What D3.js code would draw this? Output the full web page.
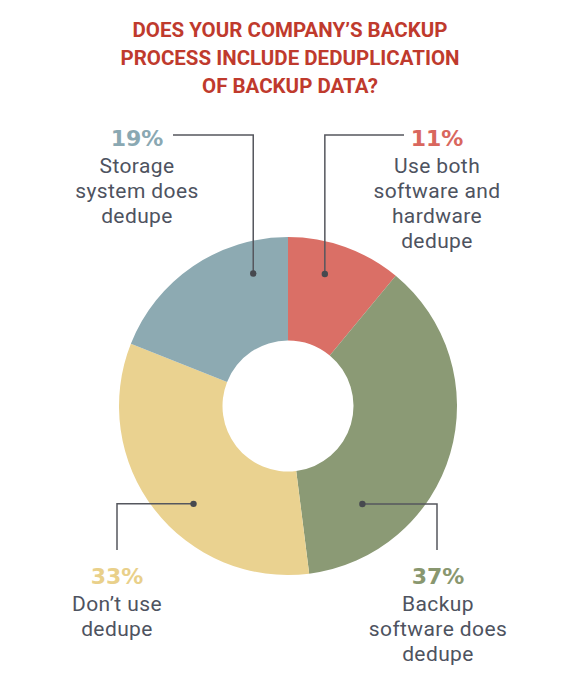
<!DOCTYPE html>
<html>
<head>
<meta charset="utf-8">
<script src="https://cdn.jsdelivr.net/npm/d3@7"></script>
<style>
  body { margin: 0; background: #fff; }
  svg { display: block; }
</style>
</head>
<body>
<script>
// answers, clockwise from 12 o'clock
var categories = [
  ["Use both", "software and", "hardware", "dedupe"],
  ["Backup", "software does", "dedupe"],
  ["Don\u2019t use", "dedupe"],
  ["Storage", "system does", "dedupe"]
];
var shares = [11, 37, 33, 19];
var titleLines = [
  "DOES YOUR COMPANY\u2019S BACKUP",
  "PROCESS INCLUDE DEDUPLICATION",
  "OF BACKUP DATA?"
];

var colors = ["#da6f66", "#8b9a75", "#ead290", "#8daab2"];
var pctColors = ["#d9675e", "#89976f", "#e9d08a", "#8aa8b2"];

// callout layout: dot (angle deg, radius), elbow end and label spot
var callouts = [
  {a: 15.6, r: 137, dir: "up", x2: 404, y2: 135, lx: 437, ly: 146},
  {a: 142.8, r: 123, dir: "down", x2: 437, y2: 550, lx: 438, ly: 584},
  {a: 224, r: 136, dir: "down", x2: 117, y2: 550, lx: 117, ly: 584},
  {a: -14.7, r: 137, dir: "up", x2: 173, y2: 135, lx: 137, ly: 146}
];

var width = 580, height = 684;
var cx = 288, cy = 406;

var svg = d3.select("body").append("svg")
  .attr("width", width)
  .attr("height", height);

svg.append("g")
  .selectAll("text")
  .data(titleLines)
  .enter().append("text")
  .attr("x", 290)
  .attr("y", function(d, i) { return 37 + i * 28; })
  .attr("text-anchor", "middle")
  .style("font-family", "Roboto, sans-serif")
  .style("font-weight", 700)
  .style("font-size", "20.5px")
  .style("fill", "#bf3a2d")
  .text(function(d) { return d; });

var pie = d3.pie().sort(null).value(function(d) { return d; });
var arc = d3.arc().innerRadius(65.5).outerRadius(169);

var main = svg.append("g")
  .attr("transform", "translate(" + cx + "," + cy + ")");

main.selectAll("path")
  .data(pie(shares))
  .enter().append("path")
  .attr("d", arc)
  .attr("fill", function(d, i) { return colors[i]; });

// leader lines + dots
function dotPos(c) {
  var t = c.a * Math.PI / 180;
  return [cx + c.r * Math.sin(t), cy - c.r * Math.cos(t)];
}

var lines = svg.append("g");
callouts.forEach(function(c, i) {
  var p = dotPos(c);
  var pts;
  if (c.dir === "up") {
    pts = [p, [p[0], c.y2], [c.x2, c.y2]];
  } else {
    pts = [p, [c.x2, p[1]], [c.x2, c.y2]];
  }
  lines.append("path")
    .attr("d", d3.line()(pts))
    .attr("fill", "none")
    .attr("stroke", "#55575e")
    .attr("stroke-width", 1.5);
  lines.append("circle")
    .attr("cx", p[0])
    .attr("cy", p[1])
    .attr("r", 3.2)
    .attr("fill", "#47494f");
});

// labels
var labels = svg.append("g");
shares.forEach(function(v, i) {
  var c = callouts[i];
  labels.append("text")
    .attr("x", c.lx)
    .attr("y", c.ly)
    .attr("text-anchor", "middle")
    .style("font-family", "'DejaVu Sans', sans-serif")
    .style("font-weight", 700)
    .style("font-size", "22px")
    .style("fill", pctColors[i])
    .text(v + "%");
  labels.append("g")
    .selectAll("text")
    .data(categories[i])
    .enter().append("text")
    .attr("x", c.lx)
    .attr("y", function(d, j) { return c.ly + 27 + j * 25; })
    .attr("text-anchor", "middle")
    .style("font-family", "Roboto, sans-serif")
    .style("font-size", "21px")
    .style("letter-spacing", "0.4px")
    .style("fill", "#4e535f")
    .text(function(d) { return d; });
});
</script>
</body>
</html>
